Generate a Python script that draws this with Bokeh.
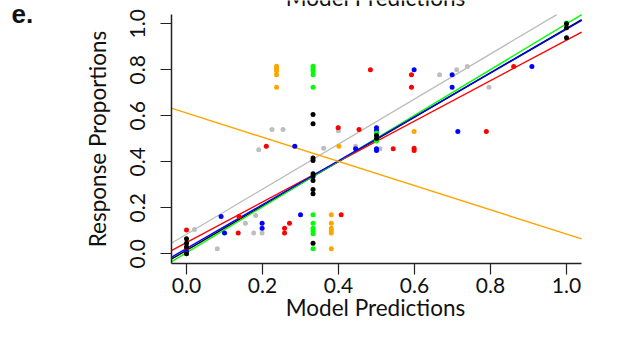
import numpy as np
from bokeh.plotting import figure
from bokeh.models import FixedTicker, Label, Range1d
from bokeh.embed import file_html
from bokeh.resources import INLINE

# ---- data ----
black_x = [0, 0, 0, 0, 0.333, 0.333, 0.333, 0.333, 0.333, 0.333, 0.333, 0.333, 0.333, 0.333, 0.5, 0.5, 1.0, 1.0, 1.0]
black_y = [0.065, 0.046, 0.03, 0.0, 0.606, 0.565, 0.416, 0.406, 0.348, 0.336, 0.319, 0.28, 0.261, 0.046, 0.514, 0.501, 1.0, 0.983, 0.939]

red_x = [0, 0, 0.138, 0.136, 0.271, 0.258, 0.258, 0.407, 0.484, 0.21, 0.399, 0.454, 0.592, 0.592, 0.544, 0.599, 0.599, 0.789, 0.861]
red_y = [0.104, 0.022, 0.162, 0.09, 0.133, 0.111, 0.09, 0.17, 0.8, 0.468, 0.548, 0.54, 0.778, 0.724, 0.457, 0.459, 0.449, 0.532, 0.814]

blue_x = [0, 0.091, 0.1, 0.199, 0.199, 0.3, 0.285, 0.445, 0.5, 0.5, 0.5, 0.5, 0.599, 0.699, 0.699, 0.714, 0.909]
blue_y = [0.01, 0.162, 0.09, 0.133, 0.111, 0.17, 0.468, 0.457, 0.548, 0.536, 0.457, 0.449, 0.8, 0.778, 0.724, 0.532, 0.814]

green_x = [0.333, 0.333, 0.333, 0.333, 0.333, 0.333, 0.333, 0.333, 0.333, 0.333, 0.333, 0.5, 0.5, 1.0, 0]
green_y = [0.815, 0.805, 0.795, 0.778, 0.724, 0.17, 0.133, 0.111, 0.1, 0.087, 0.022, 0.525, 0.49, 1.003, 0.0]

orange_x = [0.237, 0.237, 0.237, 0.237, 0.237, 0.381, 0.381, 0.381, 0.381, 0.381, 0.381, 0.401, 0.599]
orange_y = [0.815, 0.805, 0.795, 0.778, 0.724, 0.17, 0.133, 0.111, 0.1, 0.09, 0.022, 0.468, 0.532]

gray_x = [0.021, 0.081, 0.182, 0.155, 0.177, 0.199, 0.19, 0.225, 0.254, 0.4, 0.4, 0.361, 0.445, 0.509, 0.666, 0.711, 0.739, 0.796]
gray_y = [0.106, 0.022, 0.167, 0.133, 0.09, 0.09, 0.452, 0.54, 0.54, 0.535, 0.548, 0.459, 0.468, 0.457, 0.778, 0.8, 0.814, 0.724]

# fitted lines (intercept, slope) per colour
line_colors = ["black", "red", "green", "blue", "gray", "orange"]
line_intercepts = [0.015, 0.049, 0.005, 0.023, 0.085, 0.612]
line_slopes = [0.965, 0.88, 0.995, 0.954, 0.98, -0.526]

x_ticks = [0.0, 0.2, 0.4, 0.6, 0.8, 1.0]
x_tick_labels = ["0.0", "0.2", "0.4", "0.6", "0.8", "1.0"]
y_ticks = [0.0, 0.2, 0.4, 0.6, 0.8, 1.0]
y_tick_labels = ["0.0", "0.2", "0.4", "0.6", "0.8", "1.0"]
x_title = "Model Predictions"
y_title = "Response Proportions"
main_title = "Model Predictions"
panel_letter = "e."

palette = {"black": "#000000", "red": "#FF0000", "blue": "#0000FF",
           "green": "#00FF00", "orange": "#FFA500", "gray": "#BEBEBE"}

# ---- layout (pixels) ----
W, H = 604, 321
X0_PX, PX_PER_X = 186.0, 380.0     # canvas x of data 0, pixels per unit
Y0_PX, PX_PER_Y = 253.3, 230.0     # canvas y of data 0, pixels per unit
LIM = (-0.04, 1.04)                # plotting region (R style 4% padding)
FONT = "Lato"

x_range = Range1d(-X0_PX / PX_PER_X, (W - X0_PX) / PX_PER_X)
y_range = Range1d(-(H - Y0_PX) / PX_PER_Y, Y0_PX / PX_PER_Y)

p = figure(width=W, height=H, output_backend="svg", toolbar_location=None,
           x_range=x_range, y_range=y_range,
           min_border_left=0, min_border_right=0, min_border_top=0, min_border_bottom=0)
p.outline_line_color = None
p.grid.visible = False
p.background_fill_color = "white"
p.border_fill_color = "white"

# regression lines, clipped to the plotting region
for c, a, b in zip(line_colors, line_intercepts, line_slopes):
    xa, xb = LIM
    if b != 0:
        xs_lim = sorted([(LIM[0] - a) / b, (LIM[1] - a) / b])
        xa, xb = max(xa, xs_lim[0]), min(xb, xs_lim[1])
    xs = np.array([xa, xb])
    p.line(xs, a + b * xs, line_color=palette[c], line_width=1.4)

for c, xv, yv in [("gray", gray_x, gray_y), ("orange", orange_x, orange_y),
                  ("red", red_x, red_y), ("blue", blue_x, blue_y),
                  ("green", green_x, green_y), ("black", black_x, black_y)]:
    p.scatter(xv, yv, size=5, color=palette[c], line_color=None)

for ax in (p.xaxis[0], p.yaxis[0]):
    ax.fixed_location = LIM[0]
    ax.bounds = LIM
    ax.axis_line_width = 1.5
    ax.axis_line_color = "#222222"
    ax.major_tick_line_color = "#222222"
    ax.major_tick_line_width = 1.2
    ax.major_tick_out = 11
    ax.major_tick_in = 0
    ax.minor_tick_line_color = None
    ax.major_label_text_font = FONT
    ax.major_label_text_font_size = "21px"
    ax.major_label_text_color = "#111111"
    ax.axis_label_text_font = FONT
    ax.axis_label_text_font_size = "22.5px"
    ax.axis_label_text_font_style = "normal"
    ax.axis_label_text_color = "#111111"

p.xaxis[0].ticker = FixedTicker(ticks=x_ticks)
p.xaxis[0].major_label_overrides = {t: l for t, l in zip(x_ticks, x_tick_labels)}
p.yaxis[0].ticker = FixedTicker(ticks=y_ticks)
p.yaxis[0].major_label_overrides = {t: l for t, l in zip(y_ticks, y_tick_labels)}
p.yaxis[0].major_label_orientation = "vertical"
p.yaxis[0].axis_label = y_title
p.xaxis[0].major_label_standoff = 4
p.yaxis[0].major_label_standoff = 15
p.yaxis[0].axis_label_standoff = 17

# x axis title
p.add_layout(Label(x=375, y=307, x_units="canvas", y_units="canvas", text=x_title,
                   text_align="center", text_baseline="alphabetic", text_font=FONT,
                   text_font_size="22.5px", text_color="#111111"))
# main title, cut by the top edge as in the original
p.add_layout(Label(x=375, y=-3, x_units="canvas", y_units="canvas", text=main_title,
                   text_align="center", text_baseline="alphabetic", text_font=FONT,
                   text_font_size="22.5px", text_color="#111111"))
# panel letter
p.add_layout(Label(x=11, y=13, x_units="canvas", y_units="canvas", text=panel_letter,
                   text_align="left", text_baseline="alphabetic",
                   text_font="Liberation Sans", text_font_style="bold",
                   text_font_size="26px", text_color="#111111"))

open("out.html", "w").write(file_html(p, INLINE))
